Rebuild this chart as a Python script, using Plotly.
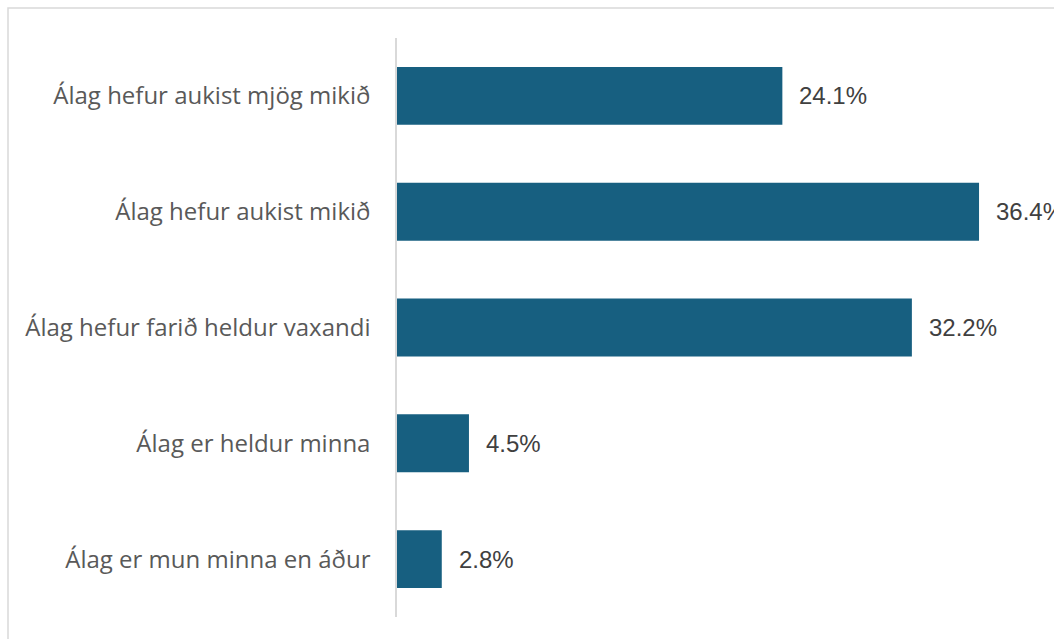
import plotly.graph_objects as go

categories = [
    "Álag hefur aukist mjög mikið",
    "Álag hefur aukist mikið",
    "Álag hefur farið heldur vaxandi",
    "Álag er heldur minna",
    "Álag er mun minna en áður",
]
values = [24.1, 36.4, 32.2, 4.5, 2.8]
labels = [f"{v:.1f}%" for v in values]

BAR_COLOR = "#175F80"
TICK_FONT = "Open Sans"
LABEL_FONT = "Liberation Sans"

fig = go.Figure()
fig.add_trace(go.Bar(
    x=values, y=categories, orientation="h",
    marker=dict(color=BAR_COLOR, line=dict(width=0)),
    width=0.5, hoverinfo="skip",
))

for v, c, t in zip(values, categories, labels):
    fig.add_annotation(x=v, y=c, text=t, showarrow=False, xanchor="left",
                       xshift=15, font=dict(family=LABEL_FONT, size=24, color="#404040"))

W, H = 1054, 639
L, R, T, B = 397, 0, 38, 22
pw, ph = W - L - R, H - T - B

def px_to_paper_x(px):
    return (px - L) / pw

def py_to_paper_y(py):
    return 1 - (py - T) / ph

fig.add_shape(type="rect", xref="paper", yref="paper",
              x0=px_to_paper_x(8), x1=px_to_paper_x(1070),
              y0=py_to_paper_y(660), y1=py_to_paper_y(8),
              line=dict(color="#d9d9d9", width=1.5), layer="below")

fig.update_layout(
    width=W, height=H,
    margin=dict(l=L, r=R, t=T, b=B),
    paper_bgcolor="white", plot_bgcolor="white",
    showlegend=False,
    font=dict(family=TICK_FONT),
    xaxis=dict(range=[0, pw / 15.99], visible=False, fixedrange=True),
    yaxis=dict(autorange="reversed", showline=True, linecolor="#d9d9d9", linewidth=1.5,
               showgrid=False, ticks="", ticklabelstandoff=20,
               tickfont=dict(family=TICK_FONT, size=24, color="#595959")),
)
fig.update_traces(cliponaxis=False)
fig.write_html("out.html", config={"displayModeBar": False},
               post_script="document.body.style.margin='0';document.body.style.overflow='hidden';")
